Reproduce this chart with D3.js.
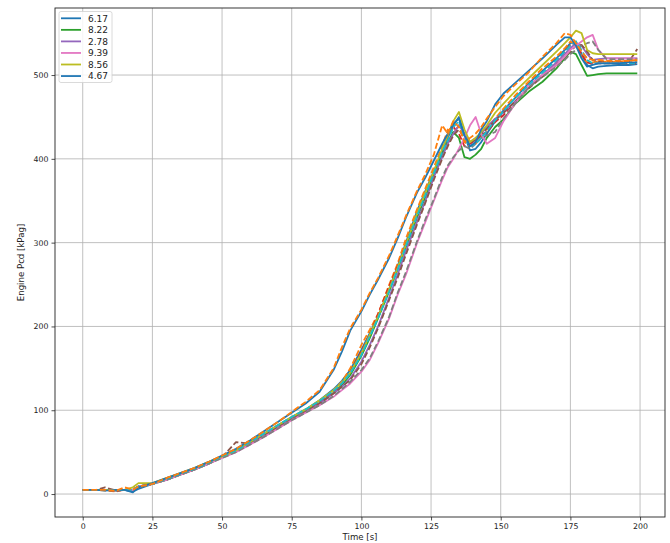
<!DOCTYPE html>
<html>
<head>
<meta charset="utf-8">
<script src="https://cdn.jsdelivr.net/npm/d3@7"></script>
<style>
  html, body { margin: 0; padding: 0; background: #fff; }
  svg { display: block; font-family: "DejaVu Sans", sans-serif; }
</style>
</head>
<body>
<svg id="chart" width="670" height="543"></svg>
<script>
// ---- data ----
const timeS = [0,5,8,12,15,18,20,25,30,35,40,45,50,55,60,65,70,75,80,85,90,93,96,100,103,106,110,113,116,120,123,126,129,131,133,135,137,139,141,143,145,148,151,155,160,165,170,173,175,177,179,181,183,185,188,192,196,199];

const legendLabels = ["6.17","8.22","2.78","9.39","8.56","4.67"];
const xTicks = [0,25,50,75,100,125,150,175,200];
const yTicks = [0,100,200,300,400,500];

const meas617 = [5,5,5,5,5,3,6, 12,18,24,30,37,45,52,62,72,82,92,101,112,125, 135,148,172,192,212,245,272,300,338,362,385,408, 425,440,450,428,410,412,420,430,445,458,472,490, 505,520,530,538,540,525,512,508,510,511,512,512,513];
const model617 = [5,5,4,3,6,4,8, 12,18,24,30,37,44,51,61,71,81,91,100,111,124, 134,150,178,196,215,250,275,305,340,365,390,415, 435,430,440,420,415,418,425,435,448,460,475,492, 508,522,532,540,536,522,515,515,516,516,516,517,517];
const meas822 = [5,5,5,4,5,5,9, 12,17,23,29,36,44,52,61,70,80,90,99,109,121, 130,142,165,186,210,242,268,295,330,355,380,405, 420,432,425,402,400,405,412,425,438,447,465,480, 492,508,520,528,525,512,499,500,501,502,502,502,502];
const model822 = [5,5,5,4,5,5,9, 12,18,24,30,37,44,52,61,71,81,91,100,110,122, 132,145,170,190,215,248,272,298,332,358,384,410, 425,438,430,415,418,422,428,432,444,452,468,485, 500,515,528,536,538,525,515,513,514,514,514,514,514];
const meas278 = [5,5,5,4,5,5,9, 12,17,23,29,36,44,51,60,70,80,89,98,108,120, 128,138,158,178,200,235,262,290,325,350,378,402, 418,430,440,430,420,425,430,438,448,455,468,485, 500,515,525,532,538,535,525,518,519,520,520,520,520];
const model278 = [5,5,8,4,5,5,9, 12,17,23,29,36,44,62,60,70,80,89,98,108,120, 128,136,155,175,198,232,258,286,322,348,375,400, 415,428,435,425,420,422,428,436,446,455,468,484, 498,512,522,528,535,536,528,518,516,516,516,516,531];
const meas939 = [5,5,5,5,5,5,9, 12,17,23,29,36,43,50,59,68,78,88,97,106,116, 124,132,146,160,180,210,238,262,300,325,350,375, 390,400,412,425,440,450,430,418,425,445,465,488, 500,512,522,530,535,540,545,548,530,520,520,520,520];
const model939 = [5,5,5,5,5,5,9, 12,17,23,29,36,43,50,59,68,78,88,97,106,117, 125,134,148,162,182,212,240,265,302,328,352,378, 392,402,410,415,412,418,425,428,432,448,465,485, 498,510,518,525,530,535,538,540,530,519,519,519,519];
const meas856 = [5,5,5,5,5,8,13, 13,19,25,31,38,45,52,62,72,82,92,101,112,124, 133,145,168,190,212,245,270,298,335,360,385,412, 428,445,456,435,420,425,432,440,455,466,480,496, 512,528,538,545,553,550,530,526,525,525,525,525,525];
const model856 = [5,5,5,5,5,5,9, 12,18,24,30,37,45,52,62,72,82,92,101,111,123, 132,144,166,188,210,242,268,296,332,357,383,408, 422,438,445,425,415,418,425,433,446,457,472,488, 503,518,528,535,540,530,518,514,514,514,514,514,514];
const meas467 = [5,5,4,5,5,2,8, 13,19,25,31,38,46,54,64,75,86,97,108,122,148, 170,195,218,238,256,282,305,330,360,378,398,418, 430,442,448,428,415,420,435,445,465,478,490,505, 520,536,545,545,535,520,510,512,514,514,514,515,515];
const model467 = [5,5,5,4,8,5,9, 12,19,25,31,38,46,54,64,75,86,98,110,124,150, 175,198,220,240,258,285,308,332,362,382,405,440, 430,445,438,420,425,430,438,448,462,475,488,503, 522,538,550,548,538,528,520,518,518,517,517,517,518];

// series in plotting order: [values, colour, dashed, legend label or null]
const series = [
  [meas617, "#1f77b4", false, legendLabels[0]],
  [model617, "#ff7f0e", true, null],
  [meas822, "#2ca02c", false, legendLabels[1]],
  [model822, "#d62728", true, null],
  [meas278, "#9467bd", false, legendLabels[2]],
  [model278, "#8c564b", true, null],
  [meas939, "#e377c2", false, legendLabels[3]],
  [model939, "#7f7f7f", true, null],
  [meas856, "#bcbd22", false, legendLabels[4]],
  [model856, "#17becf", true, null],
  [meas467, "#1f77b4", false, legendLabels[5]],
  [model467, "#ff7f0e", true, null]
];

// ---- layout ----
const L = 55, R = 665, T = 8, B = 517;
const svg = d3.select("#chart");

const x = d3.scaleLinear().domain([-9.95, 208.95]).range([L, R]);
const y = d3.scaleLinear().domain([-27.4, 580]).range([B, T]);

// grid
const grid = svg.append("g");
grid.selectAll("line.gx").data(xTicks).enter().append("line")
  .attr("x1", d => x(d)).attr("x2", d => x(d)).attr("y1", T).attr("y2", B)
  .attr("stroke", "#b0b0b0").attr("stroke-width", 0.8);
grid.selectAll("line.gy").data(yTicks).enter().append("line")
  .attr("x1", L).attr("x2", R).attr("y1", d => y(d)).attr("y2", d => y(d))
  .attr("stroke", "#b0b0b0").attr("stroke-width", 0.8);

// lines
const clip = svg.append("clipPath").attr("id", "clip").append("rect")
  .attr("x", L).attr("y", T).attr("width", R - L).attr("height", B - T);
const line = d3.line().x((d, i) => x(timeS[i])).y(d => y(d));
const lg = svg.append("g").attr("clip-path", "url(#clip)");
series.forEach(s => {
  lg.append("path").datum(s[0])
    .attr("d", line)
    .attr("fill", "none")
    .attr("stroke", s[1])
    .attr("stroke-width", 1.8)
    .attr("stroke-linejoin", "round")
    .attr("stroke-dasharray", s[2] ? "6,2.6" : null);
});

// axes
const xAxis = d3.axisBottom(x).tickValues(xTicks).tickSize(3.5).tickPadding(3);
const yAxis = d3.axisLeft(y).tickValues(yTicks).tickSize(3.5).tickPadding(3);
const gx = svg.append("g").attr("transform", `translate(0,${B})`).call(xAxis);
const gy = svg.append("g").attr("transform", `translate(${L},0)`).call(yAxis);
[gx, gy].forEach(g => {
  g.select(".domain").remove();
  g.selectAll("text").attr("font-size", 7.8).attr("fill", "#222").attr("font-family", "DejaVu Sans");
  g.selectAll("line").attr("stroke", "#222").attr("stroke-width", 0.8);
});

// frame
svg.append("rect").attr("x", L).attr("y", T).attr("width", R - L).attr("height", B - T)
  .attr("fill", "none").attr("stroke", "#222").attr("stroke-width", 0.9);

// axis labels
svg.append("text").attr("x", (L + R) / 2).attr("y", 540).attr("text-anchor", "middle")
  .attr("font-size", 8.6).attr("fill", "#222").text("Time [s]");
svg.append("text").attr("transform", `translate(24,${(T + B) / 2}) rotate(-90)`)
  .attr("text-anchor", "middle").attr("font-size", 8.6).attr("fill", "#222").text("Engine Pcd [kPag]");

// legend
const legendItems = series.filter(s => s[3] !== null);
const leg = svg.append("g");
leg.append("rect").attr("x", 59).attr("y", 11.5).attr("width", 53).attr("height", 71)
  .attr("rx", 2).attr("fill", "#fff").attr("fill-opacity", 0.85)
  .attr("stroke", "#d0d0d0").attr("stroke-width", 0.8);
legendItems.forEach((s, i) => {
  const yy = 18.3 + i * 11.55;
  leg.append("line").attr("x1", 61).attr("x2", 81).attr("y1", yy).attr("y2", yy)
    .attr("stroke", s[1]).attr("stroke-width", 1.8);
  leg.append("text").attr("x", 88).attr("y", yy + 3.3).attr("font-size", 9)
    .attr("fill", "#222").text(s[3]);
});
</script>
</body>
</html>
